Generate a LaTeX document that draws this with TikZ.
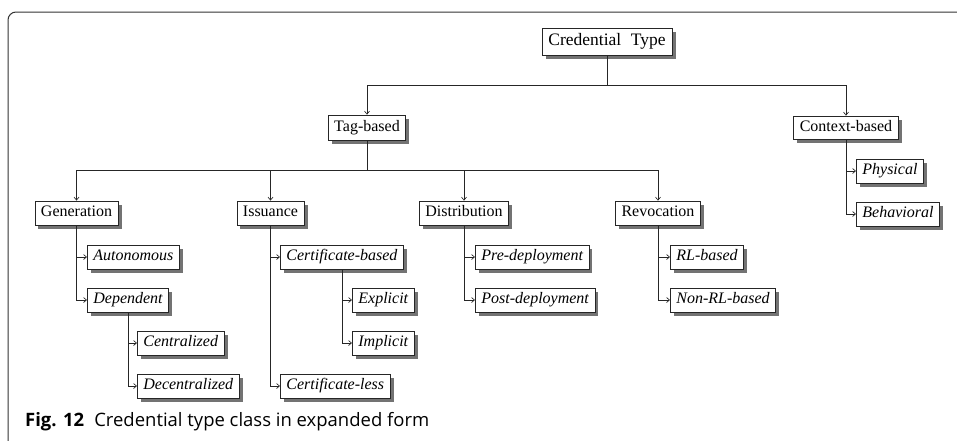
\documentclass[tikz,border=0pt]{standalone}
\usepackage{fontspec}
\usepackage{graphicx}
\setmainfont{Liberation Serif}
\newfontfamily\capfont{Open Sans}
\usetikzlibrary{arrows.meta,shadows}
\begin{document}
\begin{tikzpicture}[x=1pt,y=-1pt,
  box/.style={draw=black!85, line width=0.75pt, fill=white,
    font=\fontsize{16}{18}\selectfont, inner xsep=6pt, inner ysep=0pt,
    text height=11.5pt, text depth=4pt, minimum height=24pt,
    drop shadow={shadow xshift=3.5pt, shadow yshift=-3.5pt, fill=black!55, opacity=1}},
  leaf/.style={box, font=\fontsize{16}{18}\selectfont\itshape},
  link/.style={draw=black!85, line width=0.65pt, -{Straight Barb[length=3pt,width=5pt]}},
  frame/.style={draw=black!80, line width=1pt, rounded corners=8pt}
]
\useasboundingbox (0,0) rectangle (957,440);

% outer figure frame (open to the right and bottom)
\draw[frame] (8,442) -- (8,12) -- (960,12);

% root and first level
\node[box, font=\fontsize{17.5}{20}\selectfont, minimum height=27pt, minimum width=130pt]
  (root) at (607,41.5) {Credential\hspace{0.55em}Type};
\node[box, minimum height=25pt] (tag) at (367,127.5) {Tag-based};
\node[box, minimum height=23pt] (ctx) at (846,127.5) {Context-based};

% second level under Tag-based
\node[box] (gen) at (76.5,213) {Generation};
\node[box] (iss) at (270.5,213) {Issuance};
\node[box] (dist) at (464,213) {Distribution};
\node[box] (rev) at (658,213) {Revocation};

% leaves
\node[leaf, anchor=west] (auto)   at (87,257)  {Autonomous};
\node[leaf, anchor=west] (dep)    at (87,300)  {Dependent};
\node[leaf, anchor=west] (cent)   at (137,343) {Centralized};
\node[leaf, anchor=west] (decent) at (137,386) {Decentralized};
\node[leaf, anchor=west] (certb)  at (280,257) {Certificate-based};
\node[leaf, anchor=west] (expl)   at (352,300) {Explicit};
\node[leaf, anchor=west] (impl)   at (352,343) {Implicit};
\node[leaf, anchor=west] (certl)  at (280,386) {Certificate-less};
\node[leaf, anchor=west] (pre)    at (475,257) {Pre-deployment};
\node[leaf, anchor=west] (post)   at (475,300) {Post-deployment};
\node[leaf, anchor=west] (rl)     at (670,257) {RL-based};
\node[leaf, anchor=west] (nonrl)  at (670,300) {Non-RL-based};
\node[leaf, anchor=west] (phys)   at (856,171) {Physical};
\node[leaf, anchor=west] (behav)  at (856,214) {Behavioral};

% tree connectors
\draw[link] (root.south) -- ++(0,29.5) -| (tag.north);
\draw[link] (root.south) -- ++(0,29.5) -| (ctx.north);
\foreach \c in {gen,iss,dist,rev}
  \draw[link] (tag.south) -- ++(0,30) -| (\c.north);

\draw[link] (gen.south) |- (auto.west);
\draw[link] (gen.south) |- (dep.west);
\draw[link] (dep.south) |- (cent.west);
\draw[link] (dep.south) |- (decent.west);
\draw[link] (iss.south) |- (certb.west);
\draw[link] (iss.south) |- (certl.west);
\draw[link] (certb.south) |- (expl.west);
\draw[link] (certb.south) |- (impl.west);
\draw[link] (dist.south) |- (pre.west);
\draw[link] (dist.south) |- (post.west);
\draw[link] (rev.south) |- (rl.west);
\draw[link] (rev.south) |- (nonrl.west);
\draw[link] (ctx.south) |- (phys.west);
\draw[link] (ctx.south) |- (behav.west);

% caption, set to the full caption width
\node[anchor=base west, inner sep=0pt]
  (cap) at (25,426) {\resizebox{404pt}{!}{\capfont\fontsize{16}{18}\selectfont\textbf{Fig. 12}\hspace{0.55em}Credential type class in expanded form}};
\end{tikzpicture}
\end{document}
